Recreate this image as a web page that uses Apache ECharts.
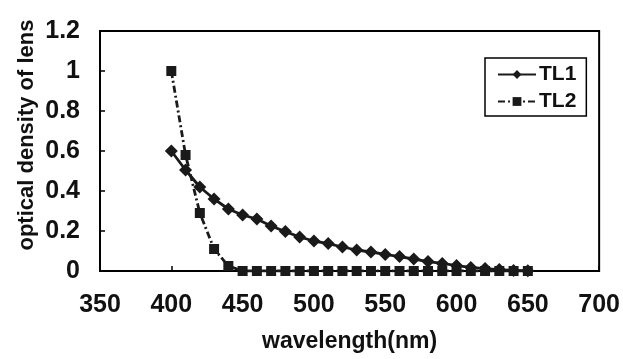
<!DOCTYPE html>
<html>
<head>
<meta charset="utf-8">
<script src="https://cdn.jsdelivr.net/npm/echarts@6/dist/echarts.min.js"></script>
<style>html,body{margin:0;padding:0;background:#fff}#c{width:623px;height:359px}</style>
</head>
<body>
<div id="c"></div>
<script>
const wavelengths = [400,410,420,430,440,450,460,470,480,490,500,510,520,530,540,550,560,570,580,590,600,610,620,630,640,650];
const tl1 = [0.60,0.505,0.42,0.36,0.31,0.28,0.26,0.225,0.197,0.17,0.15,0.137,0.12,0.105,0.095,0.083,0.072,0.06,0.047,0.038,0.027,0.018,0.012,0.007,0.003,0.001];
const tl2 = [1.0,0.58,0.29,0.11,0.025,0,0,0,0,0,0,0,0,0,0,0,0,0,0,0,0,0,0,0,0,0];
const xTicks = [350,400,450,500,550,600,650,700];
const yTicks = [0,0.2,0.4,0.6,0.8,1,1.2];
const seriesNames = ['TL1','TL2'];
const xTitle = 'wavelength(nm)';
const yTitle = 'optical density of lens';

const FONT = '"Liberation Sans", Arial, sans-serif';
const chart = echarts.init(document.getElementById('c'), null, {renderer:'canvas'});
chart.setOption({
  animation:false,
  backgroundColor:'#fff',
  grid:{left:100,right:22,top:31,bottom:88,show:true,borderColor:'#000',borderWidth:2,backgroundColor:'transparent'},
  xAxis:{
    type:'value', min:xTicks[0], max:xTicks[xTicks.length-1], interval:50,
    name:xTitle, nameLocation:'middle', nameGap:59,
    nameTextStyle:{fontFamily:FONT,fontWeight:'bold',fontSize:23,color:'#111'},
    axisLine:{lineStyle:{color:'#000',width:2}},
    axisTick:{inside:true,length:5,lineStyle:{color:'#000',width:1.5}},
    axisLabel:{margin:22,fontFamily:FONT,fontWeight:'bold',fontSize:25,color:'#111'},
    splitLine:{show:false}
  },
  yAxis:{
    type:'value', min:yTicks[0], max:yTicks[yTicks.length-1], interval:0.2,
    axisLine:{show:true,lineStyle:{color:'#000',width:2}},
    axisTick:{show:true,inside:true,length:5,lineStyle:{color:'#000',width:1.5}},
    axisLabel:{margin:20,fontFamily:FONT,fontWeight:'bold',fontSize:25,color:'#111',
      formatter:v=>String(Math.round(v*10)/10)},
    splitLine:{show:false}
  },
  legend:{
    orient:'vertical', left:485, top:58,
    data:seriesNames,
    padding:[6,10,4,12], itemGap:6, itemWidth:38, itemHeight:11,
    borderColor:'#000', borderWidth:1.5, backgroundColor:'#fff',
    textStyle:{fontFamily:FONT,fontWeight:'bold',fontSize:21,color:'#111',padding:[0,0,0,-2]}
  },
  graphic:[{
    type:'text', x:27, y:135, rotation:Math.PI/2,
    style:{text:yTitle, fill:'#111', font:'bold 22px "Liberation Sans", Arial, sans-serif', align:'center', verticalAlign:'middle'}
  }],
  series:[
    {name:seriesNames[0], type:'line', data:wavelengths.map((w,i)=>[w,tl1[i]]),
     symbol:'diamond', symbolSize:13, color:'#1a1a1a',
     lineStyle:{color:'#1a1a1a',width:2.8}, itemStyle:{color:'#1a1a1a'}, z:3},
    {name:seriesNames[1], type:'line', data:wavelengths.map((w,i)=>[w,tl2[i]]),
     symbol:'rect', symbolSize:10, color:'#1a1a1a',
     lineStyle:{color:'#1a1a1a',width:2.8,type:[7,3,2,3]}, itemStyle:{color:'#1a1a1a'}, z:2}
  ]
});
</script>
</body>
</html>
